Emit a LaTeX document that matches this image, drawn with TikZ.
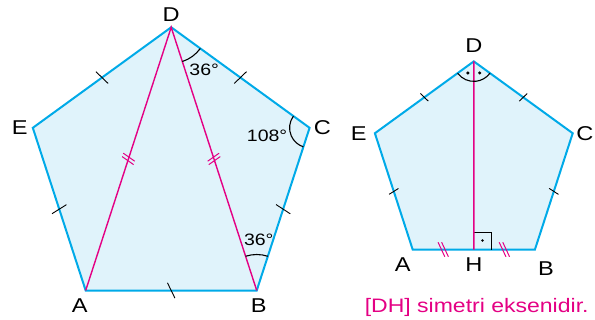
\documentclass[tikz,border=0pt]{standalone}
\usepackage{fontspec}
\setmainfont[FakeStretch=1.18]{Liberation Sans}
\usetikzlibrary{calc,positioning}
\definecolor{pentcyan}{RGB}{0,170,232}
\definecolor{pentfill}{RGB}{224,243,251}
\definecolor{symmag}{RGB}{228,0,132}

\begin{document}
\begin{tikzpicture}[x=1pt, y=1pt,
  pent/.style={draw=pentcyan, fill=pentfill, line width=2pt, line join=miter},
  diag/.style={draw=symmag, line width=1.4pt},
  tickline/.style={draw=black, line width=0.9pt},
  dtick/.style={draw=symmag, line width=1pt},
  anglearc/.style={draw=black, line width=1.1pt},
  vlabel/.style={inner sep=0pt, font=\fontsize{20}{20}\selectfont},
  alabel/.style={inner sep=0pt, font=\fontsize{16.5}{16.5}\selectfont},
  note/.style={inner sep=0pt, text=symmag, font=\fontsize{19.5}{19.5}\selectfont}]
  \useasboundingbox (0,0) rectangle (595,320);
  % left pentagon
  \coordinate (O1) at (171.2,147.2);
  \foreach \v/\ang in {D1/90, C1/18, B1/-54, A1/-126, E1/162}
    \coordinate (\v) at ($(O1)+(\ang:145.5)$);
  \draw[pent] (A1) -- (B1) -- (C1) -- (D1) -- (E1) -- cycle;
  \draw[diag] (A1) -- (D1) -- (B1);
  \foreach \p/\q/\a in {A1/B1/116, B1/C1/75, C1/D1/80, D1/E1/100, E1/A1/104}
    \draw[tickline] ($(\p)!0.5!(\q)!8.5pt!\a:(\q)$) -- ($(\p)!0.5!(\q)!-8.5pt!\a:(\q)$);
  \foreach \p/\q/\a in {A1/D1/73, B1/D1/107}
    \foreach \s in {-1.8pt,1.8pt}
      \draw[dtick] ($(\p)!0.5!(\q)!\s!(\q)!7pt!\a:(\q)$) -- ($(\p)!0.5!(\q)!\s!(\q)!-7pt!\a:(\q)$);
  \draw[anglearc] ($(D1)+(-72:36)$) arc[start angle=-72, end angle=-36, radius=36];
  \draw[anglearc] ($(C1)+(144:20)$) arc[start angle=144, end angle=252, radius=20];
  \draw[anglearc] ($(B1)+(72:36)$) arc[start angle=72, end angle=108, radius=36];
  \node[alabel] (angD1) at ($(D1)+(33,-43)$) {36°};
  \node[alabel] (angC1) at ($(C1)+(-42.5,-8)$) {108°};
  \node[alabel] (angB1) at ($(B1)+(2,50.5)$) {36°};
  \node[vlabel, above=6pt of D1] (lD1) {D};
  \node[vlabel, left=5pt of E1] (lE1) {E};
  \node[vlabel, right=4pt of C1] (lC1) {C};
  \node[vlabel, below=8.5pt of A1, xshift=-6pt] (lA1) {A};
  \node[vlabel, below=8.5pt of B1, xshift=2pt] (lB1) {B};
  % right pentagon
  \coordinate (O2) at (473.8,154.6);
  \foreach \v/\ang in {D2/90, C2/18, B2/-54, A2/-126, E2/162}
    \coordinate (\v) at ($(O2)+(\ang:104)$);
  \coordinate (H) at ($(A2)!0.5!(B2)$);
  \draw[pent] (A2) -- (B2) -- (C2) -- (D2) -- (E2) -- cycle;
  \draw[tickline] ($(H)+(0,17.5)$) -- ++(17.5,0) -- ++(0,-17.5);
  \fill ($(H)+(8.7,9)$) circle[radius=1.4];
  \draw[diag] (D2) -- (H);
  \foreach \p/\q/\a in {B2/C2/75, C2/D2/80, D2/E2/100, E2/A2/104}
    \draw[tickline] ($(\p)!0.5!(\q)!5.5pt!\a:(\q)$) -- ($(\p)!0.5!(\q)!-5.5pt!\a:(\q)$);
  \foreach \p/\q in {A2/H, H/B2}
    \foreach \s in {-1.8pt,1.8pt}
      \draw[dtick] ($(\p)!0.5!(\q)!\s!(\q)!8pt!115:(\q)$) -- ($(\p)!0.5!(\q)!\s!(\q)!-8pt!115:(\q)$);
  \draw[anglearc] ($(D2)+(216:20)$) arc[start angle=216, end angle=324, radius=20];
  \foreach \ang in {243,297}
    \fill ($(D2)+(\ang:13)$) circle[radius=1.7];
  \node[vlabel, above=8.5pt of D2] (lD2) {D};
  \node[vlabel, left=8pt of E2] (lE2) {E};
  \node[vlabel, right=3.5pt of C2] (lC2) {C};
  \node[vlabel, below=8.5pt of A2, xshift=-10pt] (lA2) {A};
  \node[vlabel, below=8.5pt of H] (lH) {H};
  \node[vlabel, below=12pt of B2, xshift=11pt] (lB2) {B};
  \node[note, anchor=base] (rule) at (476.7,7.7) {[DH] simetri eksenidir.};
\end{tikzpicture}
\end{document}
